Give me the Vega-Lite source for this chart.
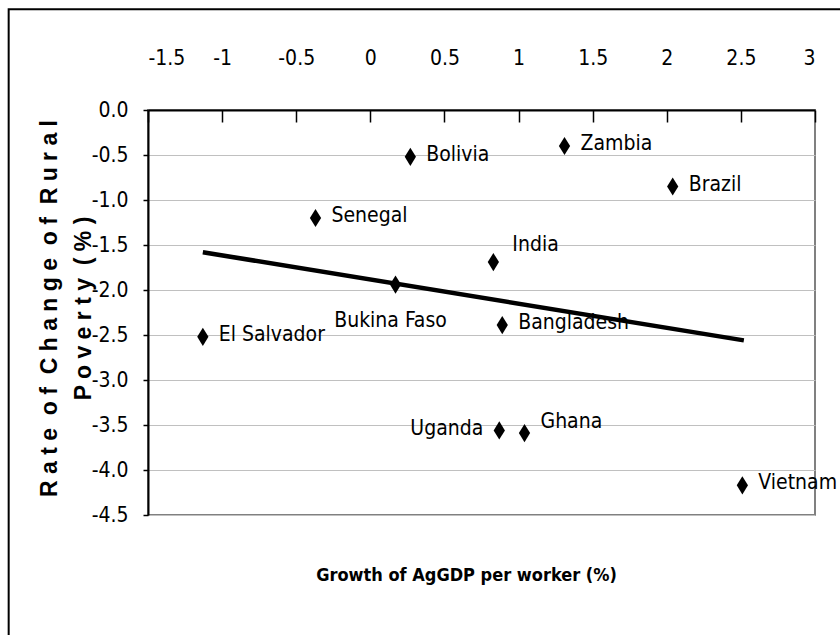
{
  "$schema": "https://vega.github.io/schema/vega-lite/v6.json",
  "width": 667,
  "height": 405,
  "autosize": "none",
  "padding": {"left": 148, "top": 110, "right": 25, "bottom": 120},
  "background": "white",
  "config": {
    "locale": {"number": {"decimal": ".", "thousands": ",", "grouping": [3], "currency": ["$", ""], "minus": "-"}},
    "view": {"stroke": "#808080", "strokeWidth": 2},
    "font": "DejaVu Sans Condensed"
  },
  "data": {
    "values": [
      {"country": "Bolivia", "growth": 0.27, "poverty": -0.52},
      {"country": "Zambia", "growth": 1.31, "poverty": -0.40},
      {"country": "Brazil", "growth": 2.04, "poverty": -0.85},
      {"country": "Senegal", "growth": -0.37, "poverty": -1.20},
      {"country": "India", "growth": 0.83, "poverty": -1.69},
      {"country": "Bukina Faso", "growth": 0.17, "poverty": -1.94},
      {"country": "El Salvador", "growth": -1.13, "poverty": -2.52},
      {"country": "Bangladesh", "growth": 0.89, "poverty": -2.39},
      {"country": "Uganda", "growth": 0.87, "poverty": -3.56},
      {"country": "Ghana", "growth": 1.04, "poverty": -3.59},
      {"country": "Vietnam", "growth": 2.51, "poverty": -4.17}
    ]
  },
  "layer": [
    {
      "data": {"values": [{}]},
      "mark": {"type": "rect", "fill": null, "stroke": "black", "strokeWidth": 2, "clip": false},
      "encoding": {
        "x": {"datum": -2.44, "type": "quantitative", "scale": {"domain": [-1.5, 3], "nice": false, "zero": false}},
        "x2": {"datum": 3.6},
        "y": {"datum": 1.12, "type": "quantitative", "scale": {"domain": [-4.5, 0], "nice": false, "zero": false}},
        "y2": {"datum": -6.5}
      }
    },
    {
      "data": {"values": [{"growth": -1.13, "poverty": -1.58}, {"growth": 2.52, "poverty": -2.56}]},
      "mark": {"type": "line", "color": "black", "strokeWidth": 4.5},
      "encoding": {
        "x": {"field": "growth", "type": "quantitative"},
        "y": {"field": "poverty", "type": "quantitative"}
      }
    },
    {
      "mark": {"type": "point", "shape": "M0,-1L0.62,0L0,1L-0.62,0Z", "filled": true, "color": "black", "size": 330, "opacity": 1},
      "encoding": {
        "x": {
          "field": "growth", "type": "quantitative",
          "scale": {"domain": [-1.5, 3], "nice": false, "zero": false},
          "axis": {
            "orient": "top",
            "values": [-1.5, -1, -0.5, 0, 0.5, 1, 1.5, 2, 2.5, 3],
            "format": "~g",
            "grid": false,
            "domainColor": "black", "domainWidth": 2,
            "tickColor": "black", "tickWidth": 1.5, "tickSize": -12,
            "labelPadding": 54,
            "labelFont": "DejaVu Sans Condensed", "labelFontSize": 21, "labelColor": "black",
            "title": "Growth of AgGDP per worker (%)",
            "titleFont": "DejaVu Sans Condensed", "titleFontWeight": "bold", "titleFontSize": 18, "titleColor": "black",
            "titleX": 318, "titleY": 465, "titleAlign": "center", "titleBaseline": "middle", "titleAngle": 0
          }
        },
        "y": {
          "field": "poverty", "type": "quantitative",
          "scale": {"domain": [-4.5, 0], "nice": false, "zero": false},
          "axis": {
            "values": [-4.5, -4, -3.5, -3, -2.5, -2, -1.5, -1, -0.5, 0],
            "format": ".1f",
            "grid": true, "gridColor": "#c0c0c0", "gridWidth": 1,
            "domainColor": "black", "domainWidth": 2,
            "tickColor": "black", "tickWidth": 1.5, "tickSize": 5,
            "labelPadding": 15,
            "labelFont": "DejaVu Sans Condensed", "labelFontSize": 21, "labelColor": "black",
            "title": ["R a t e \u00a0o f \u00a0C h a n g e \u00a0o f \u00a0R u r a l", "P o v e r t y \u00a0( % )"],
            "titleFont": "Liberation Sans", "titleFontWeight": "bold", "titleFontSize": 23, "titleColor": "black",
            "titleLineHeight": 34,
            "titleAngle": -90, "titleX": -92, "titleY": 198, "titleAlign": "center", "titleBaseline": "alphabetic"
          }
        }
      }
    },
    {
      "transform": [{"filter": {"field": "country", "oneOf": ["Bolivia", "Zambia", "Brazil", "Senegal", "Bangladesh", "Vietnam", "El Salvador"]}}],
      "mark": {"type": "text", "align": "left", "baseline": "middle", "dx": 16, "dy": -2, "font": "DejaVu Sans Condensed", "fontSize": 21, "color": "black"},
      "encoding": {
        "x": {"field": "growth", "type": "quantitative"},
        "y": {"field": "poverty", "type": "quantitative"},
        "text": {"field": "country"}
      }
    },
    {
      "transform": [{"filter": {"field": "country", "equal": "India"}}],
      "mark": {"type": "text", "align": "left", "baseline": "middle", "dx": 19, "dy": -17, "font": "DejaVu Sans Condensed", "fontSize": 21, "color": "black"},
      "encoding": {
        "x": {"field": "growth", "type": "quantitative"},
        "y": {"field": "poverty", "type": "quantitative"},
        "text": {"field": "country"}
      }
    },
    {
      "transform": [{"filter": {"field": "country", "equal": "Ghana"}}],
      "mark": {"type": "text", "align": "left", "baseline": "middle", "dx": 16, "dy": -11, "font": "DejaVu Sans Condensed", "fontSize": 21, "color": "black"},
      "encoding": {
        "x": {"field": "growth", "type": "quantitative"},
        "y": {"field": "poverty", "type": "quantitative"},
        "text": {"field": "country"}
      }
    },
    {
      "transform": [{"filter": {"field": "country", "equal": "Uganda"}}],
      "mark": {"type": "text", "align": "right", "baseline": "middle", "dx": -16, "dy": -1, "font": "DejaVu Sans Condensed", "fontSize": 21, "color": "black"},
      "encoding": {
        "x": {"field": "growth", "type": "quantitative"},
        "y": {"field": "poverty", "type": "quantitative"},
        "text": {"field": "country"}
      }
    },
    {
      "transform": [{"filter": {"field": "country", "equal": "Bukina Faso"}}],
      "mark": {"type": "text", "align": "center", "baseline": "middle", "dx": -5, "dy": 36, "font": "DejaVu Sans Condensed", "fontSize": 21, "color": "black"},
      "encoding": {
        "x": {"field": "growth", "type": "quantitative"},
        "y": {"field": "poverty", "type": "quantitative"},
        "text": {"field": "country"}
      }
    }
  ]
}
